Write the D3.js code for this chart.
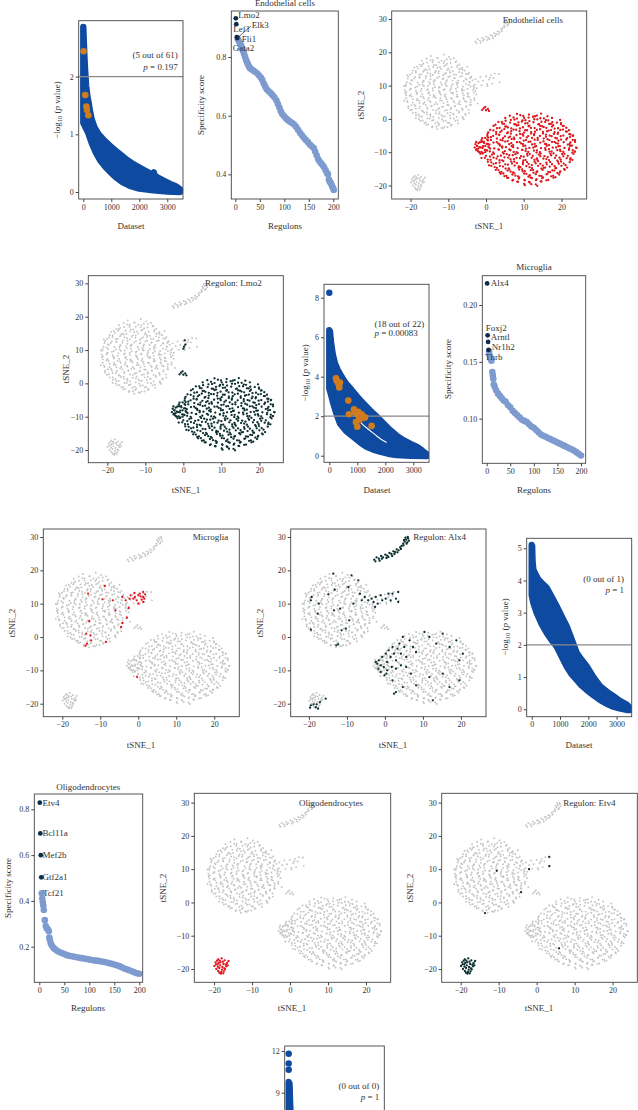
<!DOCTYPE html>
<html><head><meta charset="utf-8">
<script src="https://cdn.jsdelivr.net/npm/d3@7"></script>
<style>
body{margin:0;background:#fff}
svg{display:block}
text{font-family:"Liberation Serif","DejaVu Serif",serif;fill:#333}
</style>
</head><body><script>
// ================= DATA =================
const pvalXTicks=[0,1000,2000,3000];
const rankTicks=[0,50,100,150,200];
const tsneXTicks=[-20,-10,0,10,20];
const tsneYTicks=[-20,-10,0,10,20,30];

const panelTitles=["Endothelial cells","Microglia","Oligodendrocytes"];
const regulonTitles=["Regulon: Lmo2","Regulon: Alx4","Regulon: Etv4"];
const enrichHits=[5,18,0,0];
const enrichTotal=[61,22,1,0];
const enrichP=["0.197","0.00083","1","1"];

// -log10(p) band envelopes [dataset index, value]
const pEndoUpper=[[0,2.86],[20,2.6],[40,2.35],[60,2.15],[100,1.85],[150,1.65],[180,1.58],[240,1.4],[300,1.26],[400,1.12],[550,1.0],[700,0.92],[850,0.85],[1000,0.78],[1200,0.7],[1400,0.62],[1550,0.56],[1800,0.48],[2100,0.4],[2400,0.32],[2480,0.3],[2520,0.34],[2560,0.28],[2700,0.24],[2900,0.19],[3100,0.14],[3300,0.1],[3450,0.05]];
const pEndoLower=[[0,1.2],[100,1.1],[180,1.02],[300,0.85],[450,0.68],[600,0.55],[800,0.43],[1000,0.33],[1150,0.26],[1400,0.17],[1700,0.1],[2000,0.06],[2500,0.03],[3000,0.01],[3450,0.0]];
const pEndoHits=[[10,2.44],[70,1.68],[110,1.48],[130,1.42],[180,1.33]];

const pLmoUpper=[[0,6.35],[25,6.3],[50,5.9],[84,5.5],[130,5.1],[202,4.68],[300,4.35],[440,4.0],[600,3.65],[797,3.33],[1000,2.98],[1214,2.65],[1450,2.3],[1690,1.98],[1900,1.68],[2167,1.3],[2400,1.02],[2643,0.79],[2900,0.6],[3119,0.46],[3300,0.28],[3476,0.08]];
const pLmoLower=[[0,3.4],[60,3.1],[143,2.65],[250,2.15],[381,1.63],[600,1.25],[857,0.96],[1100,0.68],[1333,0.45],[1550,0.32],[1810,0.2],[2100,0.1],[2405,0.03],[2900,0.0],[3476,-0.02]];
const pLmoTop=[[0,8.25]];
const pLmoGap=[[900,2.1],[1050,1.8],[1214,1.55],[1360,1.38],[1512,1.21],[1660,1.04],[1810,0.87],[2048,0.67]];
const pLmoHits=[[239,3.92],[322,3.66],[357,3.46],[264,3.8],[381,3.7],[679,2.79],[702,2.1],[881,2.35],[917,2.18],[952,1.7],[1000,1.47],[1071,1.97],[1155,2.1],[1214,1.94],[1274,1.94],[1036,2.22],[1512,1.51],[1083,1.81]];

const pMicroUpper=[[0,5.1],[15,5.08],[30,4.6],[59,4.34],[130,4.2],[236,4.03],[380,3.9],[530,3.77],[700,3.5],[883,3.2],[1050,2.9],[1236,2.58],[1400,2.2],[1590,1.75],[1750,1.55],[1943,1.34],[2180,1.0],[2415,0.72],[2650,0.55],[2886,0.41],[3100,0.27],[3357,0.15],[3475,0.04]];
const pMicroLower=[[0,3.55],[60,3.3],[177,2.99],[350,2.65],[530,2.37],[700,2.15],[883,1.95],[1050,1.65],[1236,1.33],[1400,1.1],[1590,0.91],[1750,0.75],[1943,0.6],[2180,0.44],[2415,0.29],[2650,0.17],[2886,0.08],[3100,0.03],[3357,-0.02],[3475,-0.02]];

const pOligoUpper=[[0,9.78],[30,9.65],[50,8.2],[80,7.2],[120,6.3],[200,5.3],[400,4.0],[800,2.8],[1500,1.7],[2500,0.8],[3300,0.1]];
const pOligoLower=[[0,5.2],[40,4.6],[100,3.6],[200,2.8],[500,1.7],[1000,1.0],[2000,0.3],[3300,0.0]];
const pOligoTop=[[0,11.8],[0,11.1],[0,10.65]];

// regulon specificity scores [rank, score]
const endoNames=["Lmo2","Lef1","Elk3","Fli1","Gata2"];
const endoTop=[[1,0.932],[2,0.912],[3,0.868],[4,0.865]];
const endoRest=[[5,0.862],[6,0.858],[8,0.852],[10,0.845],[12,0.838],[14,0.83],[16,0.82],[18,0.81],[20,0.8],[22,0.79],[24,0.782],[26,0.775],[28,0.768],[30,0.762],[33,0.758],[36,0.755],[40,0.75],[44,0.745],[48,0.738],[52,0.73],[55,0.722],[58,0.71],[61,0.7],[64,0.69],[68,0.683],[72,0.677],[76,0.67],[80,0.662],[84,0.652],[87,0.64],[90,0.628],[93,0.615],[96,0.605],[100,0.597],[104,0.59],[108,0.584],[112,0.579],[116,0.575],[120,0.57],[124,0.562],[128,0.552],[132,0.542],[136,0.533],[140,0.525],[144,0.517],[148,0.51],[152,0.502],[156,0.496],[160,0.49],[163,0.478],[166,0.465],[169,0.452],[172,0.444],[175,0.438],[178,0.432],[181,0.425],[184,0.415],[187,0.405],[189,0.4],[191,0.382],[193,0.375],[195,0.37],[197,0.362],[199,0.355],[201,0.347]];

const microNames=["Alx4","Foxj2","Arntl","Nr1h2","Thrb"];
const microTop=[[1,0.219],[2,0.1733],[3,0.1675],[4,0.1605]];
const microRest=[[5,0.159],[6,0.156],[8,0.153],[10,0.151],[12,0.141],[13,0.138],[14,0.135],[15,0.13],[17,0.128],[20,0.125],[24,0.122],[28,0.12],[32,0.118],[36,0.116],[40,0.115],[45,0.112],[50,0.11],[55,0.107],[60,0.105],[65,0.103],[70,0.101],[75,0.099],[80,0.098],[85,0.097],[90,0.095],[95,0.093],[100,0.092],[105,0.09],[110,0.088],[115,0.086],[120,0.085],[125,0.084],[130,0.083],[135,0.082],[140,0.081],[145,0.08],[150,0.079],[155,0.078],[160,0.077],[165,0.076],[170,0.075],[175,0.074],[180,0.073],[185,0.072],[190,0.0705],[195,0.069],[200,0.0675]];

const oligoNames=["Etv4","Bcl11a","Mef2b","Gtf2a1","Tcf21"];
const oligoTop=[[1,0.829],[2,0.695],[3,0.6],[4,0.503]];
const oligoRest=[[5,0.433],[6,0.41],[7,0.395],[8,0.38],[9,0.36],[11,0.316],[13,0.29],[15,0.28],[17,0.276],[19,0.268],[20,0.24],[21,0.23],[23,0.215],[25,0.205],[28,0.196],[31,0.19],[35,0.183],[40,0.177],[45,0.172],[50,0.168],[55,0.163],[60,0.16],[65,0.158],[70,0.156],[75,0.154],[80,0.152],[85,0.15],[90,0.148],[95,0.146],[100,0.144],[105,0.142],[110,0.14],[115,0.139],[120,0.137],[125,0.135],[130,0.133],[135,0.131],[140,0.128],[145,0.125],[150,0.122],[155,0.119],[160,0.115],[165,0.11],[170,0.105],[175,0.101],[180,0.097],[185,0.093],[190,0.088],[195,0.084],[200,0.082]];

// tSNE embedding: cells grouped by cluster [tSNE_1, tSNE_2]
const cellsLeft=[[-14.6,18.9],[-12.9,18.2],[-11.2,19.3],[-9.8,18.6],[-10.4,17.9],
[-17.0,17.5],[-15.6,16.9],[-14.1,17.6],[-12.5,17.0],[-11.0,17.4],[-9.4,16.8],[-7.9,17.3],
[-18.3,15.7],[-16.9,16.3],[-15.2,15.8],[-13.8,16.2],[-12.2,15.6],[-10.7,16.1],[-9.1,15.5],[-7.6,16.0],[-6.3,15.4],
[-19.4,14.5],[-18.0,15.1],[-16.4,14.6],[-15.0,14.9],[-13.3,14.4],[-11.9,15.0],[-10.2,14.7],[-8.8,14.3],[-7.1,14.9],[-5.6,14.5],
[-20.1,13.3],[-18.6,13.9],[-17.2,13.4],[-15.5,13.8],[-14.1,13.2],[-12.6,13.7],[-11.0,13.5],[-9.5,13.9],[-7.9,13.3],[-6.4,13.8],[-4.8,13.4],
[-20.6,12.7],[-19.1,12.1],[-17.6,12.6],[-16.0,12.2],[-14.7,12.8],[-13.0,12.3],[-11.5,12.0],[-10.0,12.6],[-8.4,12.2],[-6.9,12.7],[-5.4,12.1],[-4.0,12.5],
[-21.0,11.0],[-19.6,11.5],[-18.1,10.9],[-16.5,11.4],[-15.1,11.1],[-13.6,11.6],[-12.0,10.9],[-10.5,11.3],[-8.9,11.5],[-7.4,10.8],[-5.9,11.4],[-4.3,11.0],
[-21.3,9.8],[-19.8,10.3],[-18.3,9.7],[-16.8,10.2],[-15.4,9.9],[-13.8,10.4],[-12.3,9.6],[-10.7,10.1],[-9.2,9.8],[-7.7,10.3],[-6.1,9.7],[-4.6,10.2],[-3.3,9.9],
[-21.5,8.6],[-20.0,9.1],[-18.6,8.5],[-17.1,9.0],[-15.6,8.7],[-14.1,9.2],[-12.5,8.4],[-11.0,8.9],[-9.5,8.6],[-8.0,9.1],[-6.4,8.5],[-4.9,9.0],[-3.4,8.7],
[-21.4,7.8],[-19.9,7.3],[-18.4,7.9],[-16.9,7.4],[-15.3,7.7],[-13.9,7.2],[-12.3,7.8],[-10.8,7.4],[-9.3,7.9],[-7.7,7.3],[-6.2,7.7],[-4.7,7.5],[-3.2,7.9],
[-21.2,6.2],[-19.7,6.7],[-18.2,6.1],[-16.7,6.6],[-15.2,6.3],[-13.6,6.8],[-12.1,6.2],[-10.6,6.5],[-9.0,6.1],[-7.5,6.7],[-6.0,6.3],[-4.5,6.6],[-3.1,6.2],
[-20.9,5.4],[-19.4,4.9],[-17.8,5.5],[-16.3,5.0],[-14.8,5.3],[-13.3,4.9],[-11.7,5.5],[-10.2,5.1],[-8.6,5.4],[-7.1,4.9],[-5.6,5.3],[-4.1,5.0],
[-20.6,3.8],[-19.0,4.3],[-17.5,3.7],[-16.0,4.2],[-14.4,3.9],[-12.9,4.4],[-11.4,3.7],[-9.9,4.1],[-8.3,3.8],[-6.8,4.3],[-5.2,3.9],[-4.0,4.2],
[-20.1,2.6],[-18.6,3.1],[-17.0,2.5],[-15.5,3.0],[-14.0,2.7],[-12.4,3.2],[-10.9,2.5],[-9.4,2.9],[-7.8,2.6],[-6.3,3.1],[-4.6,2.7],
[-19.4,1.8],[-17.9,1.3],[-16.4,1.9],[-14.8,1.4],[-13.3,1.7],[-11.8,1.2],[-10.2,1.8],[-8.7,1.4],[-7.2,1.9],[-5.5,1.5],
[-18.6,0.2],[-17.0,0.7],[-15.5,0.1],[-14.0,0.6],[-12.5,0.3],[-10.9,0.8],[-9.4,0.2],[-7.8,0.6],[-6.2,0.3],
[-17.4,-0.6],[-15.9,-1.1],[-14.3,-0.5],[-12.8,-1.0],[-11.3,-0.7],[-9.7,-1.2],[-8.1,-0.6],
[-15.8,-1.8],[-14.2,-2.3],[-12.6,-1.9],[-11.0,-2.4],[-9.3,-2.0],[-12.9,-3.1],[-11.4,-2.8],
[-15.7,18.15],[-14.7,17.65],[-12.8,18.3],[-11.8,17.5],[-9.35,17.85],[-8.5,18.2],
[-17.6,16.3],[-16.6,16.65],[-14.15,17.0],[-13.2,16.15],[-11.25,16.8],[-10.3,16.55],[-8.1,17.05],[-7.1,16.35],
[-19.0,15.45],[-17.15,15.8],[-16.1,14.95],[-14.0,15.6],[-12.9,15.35],[-11.1,15.85],[-10.0,15.15],[-7.65,15.55],[-6.6,15.0],[-4.95,15.7],
[-19.55,13.75],[-18.6,14.4],[-16.65,14.15],[-15.7,14.65],[-13.5,13.95],[-12.5,14.35],[-10.6,13.8],[-9.6,14.5],[-7.15,14.1],[-6.2,14.75],[-4.45,13.85],
[-20.9,13.15],[-18.8,12.6],[-17.7,13.3],[-15.9,12.9],[-14.8,13.55],[-12.45,12.65],[-11.4,13.1],[-9.55,12.8],[-8.5,13.35],[-6.4,12.85],[-5.3,13.5],[-3.9,12.7],
[-20.75,12.1],[-19.8,11.7],[-17.6,12.35],[-16.6,11.45],[-14.7,11.9],[-13.7,11.6],[-11.25,12.15],[-10.3,11.65],[-8.35,12.3],[-7.4,11.5],[-5.2,11.85],[-4.2,12.2],
[-21.2,10.35],[-20.2,10.75],[-17.75,10.2],[-16.8,10.9],[-14.85,10.5],[-13.9,11.15],[-11.7,10.25],[-10.7,10.7],[-8.8,10.4],[-7.8,10.95],[-5.35,10.45],[-4.4,11.1],[-2.95,10.3],
[-21.7,9.9],[-19.9,9.1],[-18.8,9.45],[-16.45,9.8],[-15.4,8.95],[-13.55,9.6],[-12.5,9.35],[-10.4,9.85],[-9.3,9.15],[-7.5,9.55],[-6.4,9.0],[-4.05,9.7],[-3.2,9.3],
[-21.15,8.1],[-20.2,8.75],[-18.25,7.85],[-17.3,8.3],[-15.1,8.0],[-14.1,8.55],[-12.2,8.05],[-11.2,8.7],[-8.75,7.9],[-7.8,8.25],[-5.85,8.6],[-4.9,7.75],[-2.8,8.4],
[-21.2,7.2],[-20.2,6.95],[-18.3,7.45],[-17.3,6.75],[-14.85,7.15],[-13.9,6.6],[-11.95,7.3],[-11.0,6.9],[-8.8,7.55],[-7.8,6.65],[-5.9,7.1],[-4.9,6.8],[-2.55,7.35],
[-21.7,5.45],[-19.35,5.9],[-18.3,5.6],[-16.45,6.15],[-15.4,5.65],[-13.3,6.3],[-12.2,5.5],[-10.4,5.85],[-9.3,6.2],[-6.95,5.35],[-5.9,6.0],[-4.05,5.75],
[-20.75,5.0],[-19.8,4.15],[-17.6,4.8],[-16.6,4.55],[-14.7,5.05],[-13.7,4.35],[-11.25,4.75],[-10.3,4.2],[-8.35,4.9],[-7.4,4.5],[-5.2,5.15],[-4.2,4.25],
[-20.6,3.25],[-18.75,3.9],[-17.7,3.1],[-15.6,3.45],[-14.5,3.8],[-12.7,2.95],[-11.6,3.6],[-9.25,3.35],[-8.2,3.85],[-6.35,3.15],[-5.3,3.55],
[-19.6,2.75],[-18.6,1.85],[-16.7,2.3],[-15.7,2.0],[-13.25,2.55],[-12.3,2.05],[-10.35,2.7],[-9.4,1.9],[-7.2,2.25],[-6.2,2.6],[-4.5,1.75],
[-18.55,1.1],[-17.6,0.8],[-15.65,1.35],[-14.7,0.85],[-12.5,1.5],[-11.5,0.7],[-9.6,1.05],[-8.6,1.4],[-6.15,0.55],[-5.4,1.2],
[-17.8,-0.05],[-16.8,-0.5],[-14.9,0.1],[-13.9,-0.35],[-11.65,-0.15],[-10.7,-0.6],[-8.5,0.05],[-7.5,-0.4],[-5.9,-0.1],
[-16.3,-1.2],[-15.3,-1.65],[-13.4,-1.3],[-12.4,-1.55],[-10.1,-1.15],[-9.1,-1.7],[-7.4,-1.35],
[-14.3,-2.6],[-13.2,-2.35],[-11.8,-2.7],[-10.2,-2.45]];

const cellsEndo=[[8.2,1.5],[9.9,0.9],[11.4,1.3],[13.0,0.8],[14.6,1.6],
[5.1,0.3],[6.6,-0.3],[8.2,0.1],[9.7,-0.45],[11.3,0.4],[12.8,-0.1],[14.4,0.2],[15.9,-0.35],[17.5,0.3],
[3.3,-0.9],[4.8,-1.5],[6.4,-1.1],[7.9,-1.65],[9.5,-0.8],[11.0,-1.3],[12.6,-1.0],[14.1,-1.55],[15.7,-0.9],[17.2,-1.5],[18.8,-1.1],[19.9,-1.6],
[2.0,-2.1],[3.6,-2.7],[5.1,-2.3],[6.7,-2.85],[8.2,-2.0],[9.8,-2.5],[11.3,-2.2],[12.9,-2.75],[14.4,-2.1],[16.0,-2.7],[17.5,-2.3],[19.1,-2.8],[20.6,-2.1],
[1.1,-3.3],[2.7,-3.9],[4.2,-3.5],[5.8,-4.05],[7.3,-3.2],[8.9,-3.7],[10.4,-3.4],[12.0,-3.95],[13.5,-3.3],[15.1,-3.9],[16.6,-3.5],[18.2,-4.0],[19.7,-3.3],[21.2,-3.8],[22.0,-3.4],
[0.4,-4.5],[1.9,-5.1],[3.5,-4.7],[5.0,-5.25],[6.6,-4.4],[8.1,-4.9],[9.7,-4.6],[11.2,-5.15],[12.8,-4.5],[14.3,-5.1],[15.9,-4.7],[17.4,-5.2],[19.0,-4.5],[20.5,-5.0],[22.1,-4.6],[23.0,-5.1],
[-0.2,-5.7],[1.3,-6.3],[2.9,-5.9],[4.4,-6.45],[6.0,-5.6],[7.5,-6.1],[9.1,-5.8],[10.6,-6.35],[12.2,-5.7],[13.7,-6.3],[15.3,-5.9],[16.8,-6.4],[18.4,-5.7],[19.9,-6.2],[21.5,-5.8],[23.0,-6.3],
[-1.1,-6.9],[0.5,-7.5],[2.0,-7.1],[3.6,-7.65],[5.1,-6.8],[6.7,-7.3],[8.2,-7.0],[9.8,-7.55],[11.3,-6.9],[12.9,-7.5],[14.4,-7.1],[16.0,-7.6],[17.5,-6.9],[19.1,-7.4],[20.6,-7.0],[22.2,-7.5],[23.6,-6.9],
[-2.3,-8.1],[-0.9,-8.7],[0.6,-8.3],[2.2,-8.85],[3.7,-8.0],[5.3,-8.5],[6.8,-8.2],[8.4,-8.75],[9.9,-8.1],[11.5,-8.7],[13.0,-8.3],[14.6,-8.8],[16.1,-8.1],[17.7,-8.6],[19.2,-8.2],[20.8,-8.7],[22.3,-8.1],[23.9,-8.6],
[-2.6,-9.3],[-1.2,-9.9],[0.3,-9.5],[1.9,-10.05],[3.4,-9.2],[5.0,-9.7],[6.5,-9.4],[8.1,-9.95],[9.6,-9.3],[11.2,-9.9],[12.7,-9.5],[14.3,-10.0],[15.8,-9.3],[17.4,-9.8],[18.9,-9.4],[20.5,-9.9],[22.0,-9.3],[23.5,-9.8],
[-1.5,-10.5],[0.0,-11.1],[1.6,-10.7],[3.1,-11.25],[4.7,-10.4],[6.2,-10.9],[7.8,-10.6],[9.3,-11.15],[10.9,-10.5],[12.4,-11.1],[14.0,-10.7],[15.5,-11.2],[17.1,-10.5],[18.6,-11.0],[20.2,-10.6],[21.7,-11.1],[23.2,-10.5],
[-0.3,-11.7],[1.2,-12.3],[2.8,-11.9],[4.3,-12.45],[5.9,-11.6],[7.4,-12.1],[9.0,-11.8],[10.5,-12.35],[12.1,-11.7],[13.6,-12.3],[15.2,-11.9],[16.7,-12.4],[18.3,-11.7],[19.8,-12.2],[21.4,-11.8],[22.9,-12.3],
[0.5,-12.9],[2.0,-13.5],[3.6,-13.1],[5.1,-13.65],[6.7,-12.8],[8.2,-13.3],[9.8,-13.0],[11.3,-13.55],[12.9,-12.9],[14.4,-13.5],[16.0,-13.1],[17.5,-13.6],[19.1,-12.9],[20.6,-13.4],[22.2,-13.0],
[1.4,-14.1],[2.9,-14.7],[4.5,-14.3],[6.0,-14.85],[7.6,-14.0],[9.1,-14.5],[10.7,-14.2],[12.2,-14.75],[13.8,-14.1],[15.3,-14.7],[16.9,-14.3],[18.4,-14.8],[20.0,-14.1],[21.5,-14.6],
[2.6,-15.3],[4.1,-15.9],[5.7,-15.5],[7.2,-16.05],[8.8,-15.2],[10.3,-15.7],[11.9,-15.4],[13.4,-15.95],[15.0,-15.3],[16.5,-15.9],[18.1,-15.5],[19.6,-16.0],[20.9,-15.3],
[3.9,-16.5],[5.4,-17.1],[7.0,-16.7],[8.5,-17.25],[10.1,-16.4],[11.6,-16.9],[13.2,-16.6],[14.7,-17.15],[16.3,-16.5],[17.8,-17.1],[19.4,-16.7],
[5.6,-17.7],[7.2,-18.3],[8.7,-17.9],[10.3,-18.45],[11.8,-17.6],[13.4,-18.1],[14.9,-17.8],[16.5,-18.35],[17.9,-17.7],
[8.5,-18.9],[10.1,-19.5],[11.6,-19.1],[13.2,-19.65],[14.7,-18.8],
[-2.8,-7.6],[-2.0,-8.9],[-1.6,-7.0],[-0.8,-8.2],[-0.3,-9.3],[0.2,-7.5],[-1.9,-9.9],[-0.9,-10.4],[0.8,-8.6],[-2.4,-8.1],
[6.3,0.95],[7.3,0.45],[9.1,1.1],[10.1,0.3],[12.45,0.65],[13.5,1.0],[15.35,0.15],[16.3,0.8],
[4.2,-0.9],[5.2,-0.55],[7.55,-0.2],[8.6,-1.05],[10.45,-0.4],[11.5,-0.65],[13.6,-0.15],[14.7,-0.85],[16.5,-0.45],[17.6,-1.0],[19.65,-0.3],
[2.5,-1.75],[4.35,-1.4],[5.4,-2.25],[7.5,-1.6],[8.6,-1.85],[10.4,-1.35],[11.5,-2.05],[13.85,-1.65],[14.9,-2.2],[16.75,-1.5],[17.8,-1.9],[19.9,-1.25],[20.4,-2.15],
[1.95,-3.45],[2.9,-2.8],[4.85,-3.05],[5.8,-2.55],[8.0,-3.25],[9.0,-2.85],[10.9,-3.4],[11.9,-2.7],[14.35,-3.1],[15.3,-2.45],[17.25,-3.35],[18.2,-2.9],[20.4,-3.2],[21.3,-2.65],
[0.6,-4.05],[2.7,-4.6],[3.8,-3.9],[5.6,-4.3],[6.7,-3.65],[9.05,-4.55],[10.1,-4.1],[11.95,-4.4],[13.0,-3.85],[15.1,-4.35],[16.2,-3.7],[18.0,-4.5],[19.1,-4.15],[21.45,-3.8],[22.4,-4.65],
[0.35,-5.1],[1.3,-5.5],[3.5,-4.85],[4.5,-5.75],[6.4,-5.3],[7.4,-5.6],[9.85,-5.05],[10.8,-5.55],[12.75,-4.9],[13.7,-5.7],[15.9,-5.35],[16.9,-5.0],[18.8,-5.85],[19.8,-5.2],[22.25,-5.45],[23.1,-4.95],
[-0.6,-6.85],[0.5,-6.45],[2.85,-7.0],[3.9,-6.3],[5.75,-6.7],[6.8,-6.05],[8.9,-6.95],[10.0,-6.5],[11.8,-6.8],[12.9,-6.25],[15.25,-6.75],[16.3,-6.1],[18.15,-6.9],[19.2,-6.55],[21.3,-6.2],[22.4,-7.05],[23.6,-6.4],
[-2.0,-7.3],[-0.2,-8.1],[0.9,-7.75],[3.25,-7.4],[4.3,-8.25],[6.15,-7.6],[7.2,-7.85],[9.3,-7.35],[10.4,-8.05],[12.2,-7.65],[13.3,-8.2],[15.65,-7.5],[16.7,-7.9],[18.55,-7.25],[19.6,-8.15],[21.7,-7.7],[22.8,-8.0],
[-2.45,-9.1],[-1.7,-8.45],[0.15,-9.35],[1.1,-8.9],[3.3,-9.2],[4.3,-8.65],[6.2,-9.15],[7.2,-8.5],[9.65,-9.3],[10.6,-8.95],[12.55,-8.6],[13.5,-9.45],[15.7,-8.8],[16.7,-9.05],[18.6,-8.55],[19.6,-9.25],[22.05,-8.85],[23.0,-9.4],[24.0,-8.7],
[-1.7,-10.0],[-0.8,-10.25],[1.0,-9.75],[2.1,-10.45],[4.45,-10.05],[5.5,-10.6],[7.35,-9.9],[8.4,-10.3],[10.5,-9.65],[11.6,-10.55],[13.4,-10.1],[14.5,-10.4],[16.85,-9.85],[17.9,-10.35],[19.75,-9.7],[20.8,-10.5],[22.9,-10.15],[23.6,-9.8],
[-1.2,-11.75],[1.05,-11.3],[2.0,-11.6],[3.95,-11.05],[4.9,-11.55],[7.1,-10.9],[8.1,-11.7],[10.0,-11.35],[11.0,-11.0],[13.45,-11.85],[14.4,-11.2],[16.35,-11.45],[17.3,-10.95],[19.5,-11.65],[20.5,-11.25],[22.4,-11.8],
[0.45,-12.2],[1.4,-13.05],[3.6,-12.4],[4.6,-12.65],[6.5,-12.15],[7.5,-12.85],[9.95,-12.45],[10.9,-13.0],[12.85,-12.3],[13.8,-12.7],[16.0,-12.05],[17.0,-12.95],[18.9,-12.5],[19.9,-12.8],[22.35,-12.25],
[0.8,-13.95],[2.65,-13.3],[3.7,-14.1],[5.8,-13.75],[6.9,-13.4],[8.7,-14.25],[9.8,-13.6],[12.15,-13.85],[13.2,-13.35],[15.05,-14.05],[16.1,-13.65],[18.2,-14.2],[19.3,-13.5],[21.1,-13.9],
[2.3,-14.45],[3.3,-15.35],[5.2,-14.9],[6.2,-15.2],[8.65,-14.65],[9.6,-15.15],[11.55,-14.5],[12.5,-15.3],[14.7,-14.95],[15.7,-14.6],[17.6,-15.45],[18.6,-14.8],[20.7,-15.05],
[3.65,-16.1],[4.6,-16.4],[6.55,-15.85],[7.5,-16.35],[9.7,-15.7],[10.7,-16.5],[12.6,-16.15],[13.6,-15.8],[16.05,-16.65],[17.0,-16.0],[18.95,-16.25],[19.7,-15.75],
[4.9,-17.2],[5.9,-17.7],[7.8,-17.05],[8.8,-17.55],[11.25,-17.3],[12.2,-17.8],[14.15,-17.1],[15.1,-17.6],[17.3,-17.25],[18.4,-17.5],
[7.0,-18.5],[8.3,-18.85],[10.2,-18.3],[11.4,-18.9],[13.25,-18.4],[14.5,-18.75],[16.0,-18.45],
[10.3,-19.9],[12.0,-19.6],[13.6,-20.1],
[-1.2,-6.4],[-2.6,-6.9],[-3.0,-8.6],[0.3,-6.2],[-0.5,-7.2],[-1.4,-8.6],[-2.2,-9.6],[-0.2,-10.0],[-1.0,-5.8],[0.6,-5.6]];

const cellsTop=[[-2.8,23.2],[-2.2,23.9],[-1.6,23.5],[-1.0,24.3],[-0.5,23.9],[0.1,24.7],[0.6,24.4],[1.2,25.2],[1.7,24.9],[2.2,25.7],[2.7,25.5],[3.1,26.3],[3.6,26.0],[4.0,26.9],[4.4,27.3],[4.8,28.0],[5.2,28.6],[5.6,29.2],[5.9,28.4],[6.1,29.6],[5.4,29.8],[4.9,27.5],[3.3,25.4],[1.9,24.3],[0.4,23.7],[-1.4,22.9],[6.3,28.9],[5.0,29.1],[-2.5,22.7],[-0.8,23.5],[0.9,24.0],[2.5,24.9],[4.2,26.4],[5.7,28.0],[6.0,30.0]];

const cellsOligo=[[-19.6,-18.0],[-18.9,-17.1],[-18.0,-16.8],[-17.2,-17.4],[-16.6,-18.2],[-19.9,-19.1],[-19.1,-18.6],[-18.3,-18.0],[-17.5,-18.5],[-16.8,-19.2],[-19.4,-20.0],[-18.6,-19.7],[-17.8,-19.4],[-17.1,-20.1],[-18.9,-20.6],[-18.1,-20.9],[-17.6,-21.3],[-18.5,-17.5],[-17.9,-20.2],[-16.4,-18.9],[-19.2,-17.5],[-18.2,-21.4],
[-19.0,-19.3],[-18.4,-18.9],[-17.7,-17.8],[-16.9,-18.7],[-18.8,-18.2],[-17.3,-19.8],[-19.5,-18.6],[-18.6,-21.1],[-17.4,-20.7],[-16.2,-17.6]];

const cellsMid=[[-2.8,12.0],[-2.0,11.2],[-1.5,12.6],[-0.8,11.5],[0.0,12.8],[0.3,10.4],[0.8,11.8],[1.3,13.1],[1.6,10.6],[2.0,12.3],[2.3,13.6],[3.4,13.5],[3.6,11.0],[0.4,9.9],[-1.2,10.1],[-3.6,11.6],[-2.5,9.2],[1.1,12.4]];

const cellsSmall=[[-0.6,3.2],[0.0,2.6],[0.5,3.0],[-0.2,3.6],[0.8,2.4],[-1.0,2.7],[-3.1,5.6],[-2.2,4.6]];

const lmoExtra=[[0.2,11.0],[0.4,12.9],[0.0,10.4],[0.5,11.6]];

const microgliaCells=[[-13.2,13.0],[-8.8,15.3],[-9.4,11.3],[-6.7,11.0],[-6.0,8.0],[-12.9,4.8],[-3.0,5.8],[-4.2,4.2],[-4.5,3.0],[-12.6,0.5],[-13.7,1.0],[-13.5,-2.0],[-12.4,-1.0],[-8.5,-1.5],[-0.3,-12.0],[-4.2,12.0],[-3.3,11.0],[-2.3,11.5],[-2.0,12.5],[-1.3,11.5],[-0.4,11.0],[0.0,12.5],[0.4,13.0],[0.9,11.2],[1.3,13.5],[1.3,12.0],[1.3,10.5],[0.0,10.0],[-0.9,12.0],[-2.5,8.7],[-1.0,13.2],[1.8,12.8],[1.6,11.5],[-13.9,-2.6],[0.6,12.2]];

const alx4Cells=[[-19.3,12],[-19.5,11],[-17.7,7],[-19.5,2.2],[-17.4,10],[-14.9,12.8],[-13.2,14.2],[-13.4,8],[-11.8,8.5],[-11.4,2],[-10.3,2.5],[-12.8,-2.5],[-12.3,-2.2],[-9.4,5],[-8.3,10],[-9.6,15],[-7.0,17],[-6.6,13],[-6.1,11],[-13.6,19],[-8.8,18.5],
[-5.3,12],[-4.4,11],[-3.5,11.5],[-3.0,10.5],[-2.4,12],[-1.9,10],[-1.1,12.5],[-0.7,11],[0.2,11.5],[0.9,13],[1.5,11],[2.0,13],[2.9,11.5],[3.5,13.5],[3.5,10.5],[-2.6,9],
[-2.4,-7.5],[-2.0,-8],[-1.6,-7],[-1.1,-8.5],[-0.7,-6],[-0.3,-9],[0.2,-5],[0.6,-7.5],[1.0,-4],[1.5,-6],[2.0,-3],[2.4,-5],[2.9,-7],[3.3,-3.5],[3.8,-2],[4.2,-5],[4.7,0],[5.1,-3],[5.6,-6],[6.5,-1],[7.4,-3],[8.2,-4.5],[10.4,1.5],[11.7,0],[13.5,-2],[15.2,1],[17.0,-3],[18.8,-1],[20.5,-5],[19.6,-7],[0.4,-11],[2.0,-13],[2.9,-16.5],[2.4,-17],[4.7,-15],[6.8,-11],[8.2,-14.5],[12.6,-19],[11.7,-12],[15.2,-11],[17.0,-15],[19.6,-13],[-1.1,-10.5],[-1.7,-9.5],[-0.1,-11.5],[0.6,-10],[1.8,-9],[2.9,-9.5],[4.2,-8.5],[5.6,-9],
[-19.5,-20.5],[-18.8,-20.2],[-18.2,-21],[-17.6,-21.5],[-17.1,-19.5],[-15.6,-18.5],[-19.7,-21.2],[-18.0,-20.2]];

const etv4Cells=[[-10.5,9.5],[-2.0,10],[3.3,13.7],[3.3,10.9],[-4.1,3.1],[-13.6,-3.2],[5.9,-13.8]];

// ================= DRAWING =================
const C={blue:"#0e4aa0",orange:"#cf7c1f",light:"#7e9bd0",navy:"#0d2c4c",red:"#e3161c",dark:"#0c2f30",gray:"#c3c3c3",line:"#8a8a8a",axis:"#444"};
const svg=d3.select("body").append("svg").attr("width",638).attr("height",1110);
let clipN=0;

function panel(p){
  const x=d3.scaleLinear().domain(p.xd).range([p.l,p.r]);
  const y=d3.scaleLinear().domain(p.yd).range([p.b,p.t]);
  const id="clip"+(++clipN);
  svg.append("clipPath").attr("id",id).append("rect").attr("x",p.l).attr("y",p.t).attr("width",p.r-p.l).attr("height",p.b-p.t);
  const g=svg.append("g");
  const plot=g.append("g").attr("clip-path",`url(#${id})`);
  const ax=g.append("g").attr("transform",`translate(0,${p.b})`)
    .call(d3.axisBottom(x).tickValues(p.xt).tickSize(3).tickPadding(2).tickSizeOuter(0).tickFormat(d3.format(p.xf||"d")));
  const ay=g.append("g").attr("transform",`translate(${p.l},0)`)
    .call(d3.axisLeft(y).tickValues(p.yt).tickSize(3).tickPadding(2).tickSizeOuter(0).tickFormat(d3.format(p.yf||"d")));
  [ax,ay].forEach(a=>{a.select(".domain").remove();a.attr("font-size",8);a.selectAll("line").attr("stroke",C.axis);a.selectAll("text").attr("fill","#333");});
  g.append("rect").attr("x",p.l).attr("y",p.t).attr("width",p.r-p.l).attr("height",p.b-p.t).attr("fill","none").attr("stroke",C.axis).attr("stroke-width",0.9);
  if(p.xlab) g.append("text").attr("x",p.xlab[1]).attr("y",p.xlab[2]).attr("text-anchor","middle").attr("font-size",9).text(p.xlab[0]);
  return {x,y,plot,g,p};
}
function yLabelText(P,txt,xc,yc){
  return P.g.append("text").attr("transform",`translate(${xc},${yc}) rotate(-90)`).attr("text-anchor","middle").attr("dy","0.35em").attr("font-size",9).text(txt);
}
function yLabelLog(P,xc,yc){
  const t=P.g.append("text").attr("transform",`translate(${xc},${yc}) rotate(-90)`).attr("text-anchor","middle").attr("dy","0.35em").attr("font-size",9);
  t.append("tspan").text("\u2212log");
  t.append("tspan").attr("font-size",6.5).attr("dy",2).text("10");
  t.append("tspan").attr("dy",-2).text(" (");
  t.append("tspan").attr("font-style","italic").text("p");
  t.append("tspan").text(" value)");
}
function pvalPanel(p,upper,lower,opts){
  const P=panel(p);
  const pts=upper.concat(lower.slice().reverse()).map(d=>[P.x(d[0]),P.y(d[1])]);
  P.plot.append("path").attr("d",d3.line()(pts)+"Z").attr("fill",C.blue).attr("stroke",C.blue).attr("stroke-width",6.4).attr("stroke-linejoin","round");
  if(opts.top) P.plot.selectAll(null).data(opts.top).join("circle").attr("cx",d=>P.x(d[0])).attr("cy",d=>P.y(d[1])).attr("r",3.2).attr("fill",C.blue);
  if(opts.gap) P.plot.append("path").attr("d",d3.line().x(d=>P.x(d[0])).y(d=>P.y(d[1])).curve(d3.curveCatmullRom)(opts.gap)).attr("fill","none").attr("stroke","#fff").attr("stroke-width",1.1);
  P.plot.append("line").attr("x1",p.l).attr("x2",p.r).attr("y1",P.y(2)).attr("y2",P.y(2)).attr("stroke",C.line).attr("stroke-width",1.2);
  if(opts.hits) P.plot.selectAll(null).data(opts.hits).join("circle").attr("cx",d=>P.x(d[0])).attr("cy",d=>P.y(d[1])).attr("r",3.3).attr("fill",C.orange);
  const i=opts.idx;
  P.g.append("text").attr("x",opts.tx).attr("y",opts.ty[0]).attr("text-anchor",opts.anchor).attr("font-size",9)
    .text(`(${enrichHits[i]} out of ${enrichTotal[i]})`);
  const t2=P.g.append("text").attr("x",opts.tx).attr("y",opts.ty[1]).attr("text-anchor",opts.anchor).attr("font-size",9);
  t2.append("tspan").attr("font-style","italic").text("p");
  t2.append("tspan").text(" = "+enrichP[i]);
  yLabelLog(P,opts.ylx,opts.yly);
  return P;
}
function specPanel(p,top,rest,names,labPos,opts){
  const P=panel(p);
  P.plot.selectAll(null).data(rest).join("circle").attr("cx",d=>P.x(d[0])).attr("cy",d=>P.y(d[1])).attr("r",3.3).attr("fill",C.light);
  P.plot.selectAll(null).data(top).join("circle").attr("cx",d=>P.x(d[0])).attr("cy",d=>P.y(d[1])).attr("r",2.4).attr("fill",C.navy);
  if(opts.seg) P.g.append("line").attr("x1",P.x(top[opts.seg[0]][0])).attr("y1",P.y(top[opts.seg[0]][1])).attr("x2",opts.seg[1]).attr("y2",opts.seg[2]).attr("stroke","#222").attr("stroke-width",0.7);
  names.forEach((n,i)=>P.g.append("text").attr("x",labPos[i][0]).attr("y",labPos[i][1]).attr("font-size",9).attr("fill","#222").text(n));
  P.g.append("text").attr("x",opts.title[1]).attr("y",opts.title[2]).attr("text-anchor","middle").attr("font-size",9).text(opts.title[0]);
  yLabelText(P,"Specificity score",opts.ylx,opts.yly);
  return P;
}
const allCells=[cellsLeft,cellsEndo,cellsTop,cellsOligo,cellsMid,cellsSmall].flat();
function tsnePanel(p,hi,color,label,ylab){
  const P=panel(p);
  P.plot.selectAll(null).data(allCells).join("circle").attr("cx",d=>P.x(d[0])).attr("cy",d=>P.y(d[1])).attr("r",0.95).attr("fill",C.gray);
  P.plot.selectAll(null).data(hi).join("circle").attr("cx",d=>P.x(d[0])).attr("cy",d=>P.y(d[1])).attr("r",1.15).attr("fill",color);
  P.g.append("text").attr("x",label[1]).attr("y",label[2]).attr("font-size",9).attr("fill","#222").text(label[0]);
  yLabelText(P,"tSNE_2",ylab[0],ylab[1]);
  return P;
}

// ---- Row 1 ----
pvalPanel({l:78.7,r:183,t:20.7,b:199,xd:[-164,3561],yd:[-0.121,2.969],xt:pvalXTicks,yt:[0,1,2],xlab:["Dataset",131,229]},
  pEndoUpper,pEndoLower,{hits:pEndoHits,idx:0,tx:177.7,ty:[57.5,70],anchor:"end",ylx:57,yly:110});
specPanel({l:231.3,r:338.3,t:11,b:199,xd:[-8.2,210.2],yd:[0.316,0.957],xt:rankTicks,yt:[0.4,0.6,0.8],yf:".1f",xlab:["Regulons",285,229]},
  endoTop,endoRest,endoNames,[[238.3,17.5],[233.3,32],[251.7,28],[241.7,42],[232.7,51]],
  {seg:[3,251,26],title:[panelTitles[0],285,5.5],ylx:201,yly:105});
tsnePanel({l:391.7,r:586.7,t:11,b:199,xd:[-25,26.7],yd:[-24.05,32.4],xt:tsneXTicks,yt:tsneYTicks,xlab:["tSNE_1",489,229]},
  cellsEndo.concat(cellsSmall.slice(0,6)),C.red,[panelTitles[0],502.7,23],[361,105]);

// ---- Row 2 ----
tsnePanel({l:88.3,r:283.3,t:275.7,b:462.7,xd:[-25,26.3],yd:[-23.8,32.3],xt:tsneXTicks,yt:tsneYTicks,xlab:["tSNE_1",186,493]},
  cellsEndo.concat(cellsSmall.slice(0,6),lmoExtra),C.dark,[regulonTitles[0],205,286],[66,369]);
pvalPanel({l:324,r:429,t:284.3,b:462.3,xd:[-189,3561],yd:[-0.334,8.68],xt:pvalXTicks,yt:[0,2,4,6,8],xlab:["Dataset",377,493]},
  pLmoUpper,pLmoLower,{top:pLmoTop,gap:pLmoGap,hits:pLmoHits,idx:1,tx:374.5,ty:[327,335.5],anchor:"start",ylx:305,yly:373});
specPanel({l:482.3,r:585.7,t:275.7,b:463.3,xd:[-9.3,210],yd:[0.0607,0.2258],xt:rankTicks,yt:[0.10,0.15,0.20],yf:".2f",xlab:["Regulons",534,493]},
  microTop,microRest,microNames,[[490.7,286],[485.7,331],[490.7,340],[491.7,349.5],[485,359.5]],
  {title:[panelTitles[1],534,269.5],ylx:448,yly:369});

// ---- Row 3 ----
tsnePanel({l:43.3,r:239.3,t:529,b:716.7,xd:[-25,26.6],yd:[-23.9,32.4],xt:tsneXTicks,yt:tsneYTicks,xlab:["tSNE_1",141,748]},
  microgliaCells,C.red,[panelTitles[1],192.7,539.5],[12,623]);
tsnePanel({l:290.7,r:486,t:529,b:716.7,xd:[-24.8,26.6],yd:[-23.9,32.4],xt:tsneXTicks,yt:tsneYTicks,xlab:["tSNE_1",393,748]},
  cellsTop.concat(alx4Cells),C.dark,[regulonTitles[1],413.3,539.5],[260,623]);
pvalPanel({l:526.7,r:631.7,t:538.3,b:716.7,xd:[-177,3534],yd:[-0.23,5.31],xt:pvalXTicks,yt:[0,1,2,3,4,5],xlab:["Dataset",579,748]},
  pMicroUpper,pMicroLower,{idx:2,tx:624,ty:[582,593],anchor:"end",ylx:505,yly:627});

// ---- Row 4 ----
specPanel({l:34.3,r:142.7,t:794,b:982.3,xd:[-10,206.8],yd:[0.0445,0.867],xt:rankTicks,yt:[0.2,0.4,0.6,0.8],yf:".1f",xlab:["Regulons",88,1011]},
  oligoTop,oligoRest,oligoNames,[[42.5,805.5],[42.5,836],[42.5,858],[42.5,880],[43,896]],
  {title:[panelTitles[2],88.3,789.5],ylx:8,yly:888});
tsnePanel({l:194.3,r:390.7,t:793.3,b:982.3,xd:[-25.2,26.5],yd:[-24,32.8],xt:tsneXTicks,yt:tsneYTicks,xlab:["tSNE_1",292,1011]},
  cellsOligo,C.red,[panelTitles[2],299,805.5],[163,888]);
tsnePanel({l:441.7,r:637.3,t:793.3,b:982.3,xd:[-25,26.5],yd:[-24,32.8],xt:tsneXTicks,yt:tsneYTicks,xlab:["tSNE_1",539,1011]},
  cellsOligo.concat(etv4Cells),C.dark,[regulonTitles[2],563.3,805.5],[410,888]);

// ---- Row 5 ----
pvalPanel({l:284.7,r:384.3,t:1046,b:1230,xd:[-143,3414],yd:[-0.88,12.36],xt:pvalXTicks,yt:[0,3,6,9,12]},
  pOligoUpper,pOligoLower,{top:pOligoTop,idx:3,tx:379.3,ty:[1089,1100.3],anchor:"end",ylx:256,yly:1142});
</script></body></html>
